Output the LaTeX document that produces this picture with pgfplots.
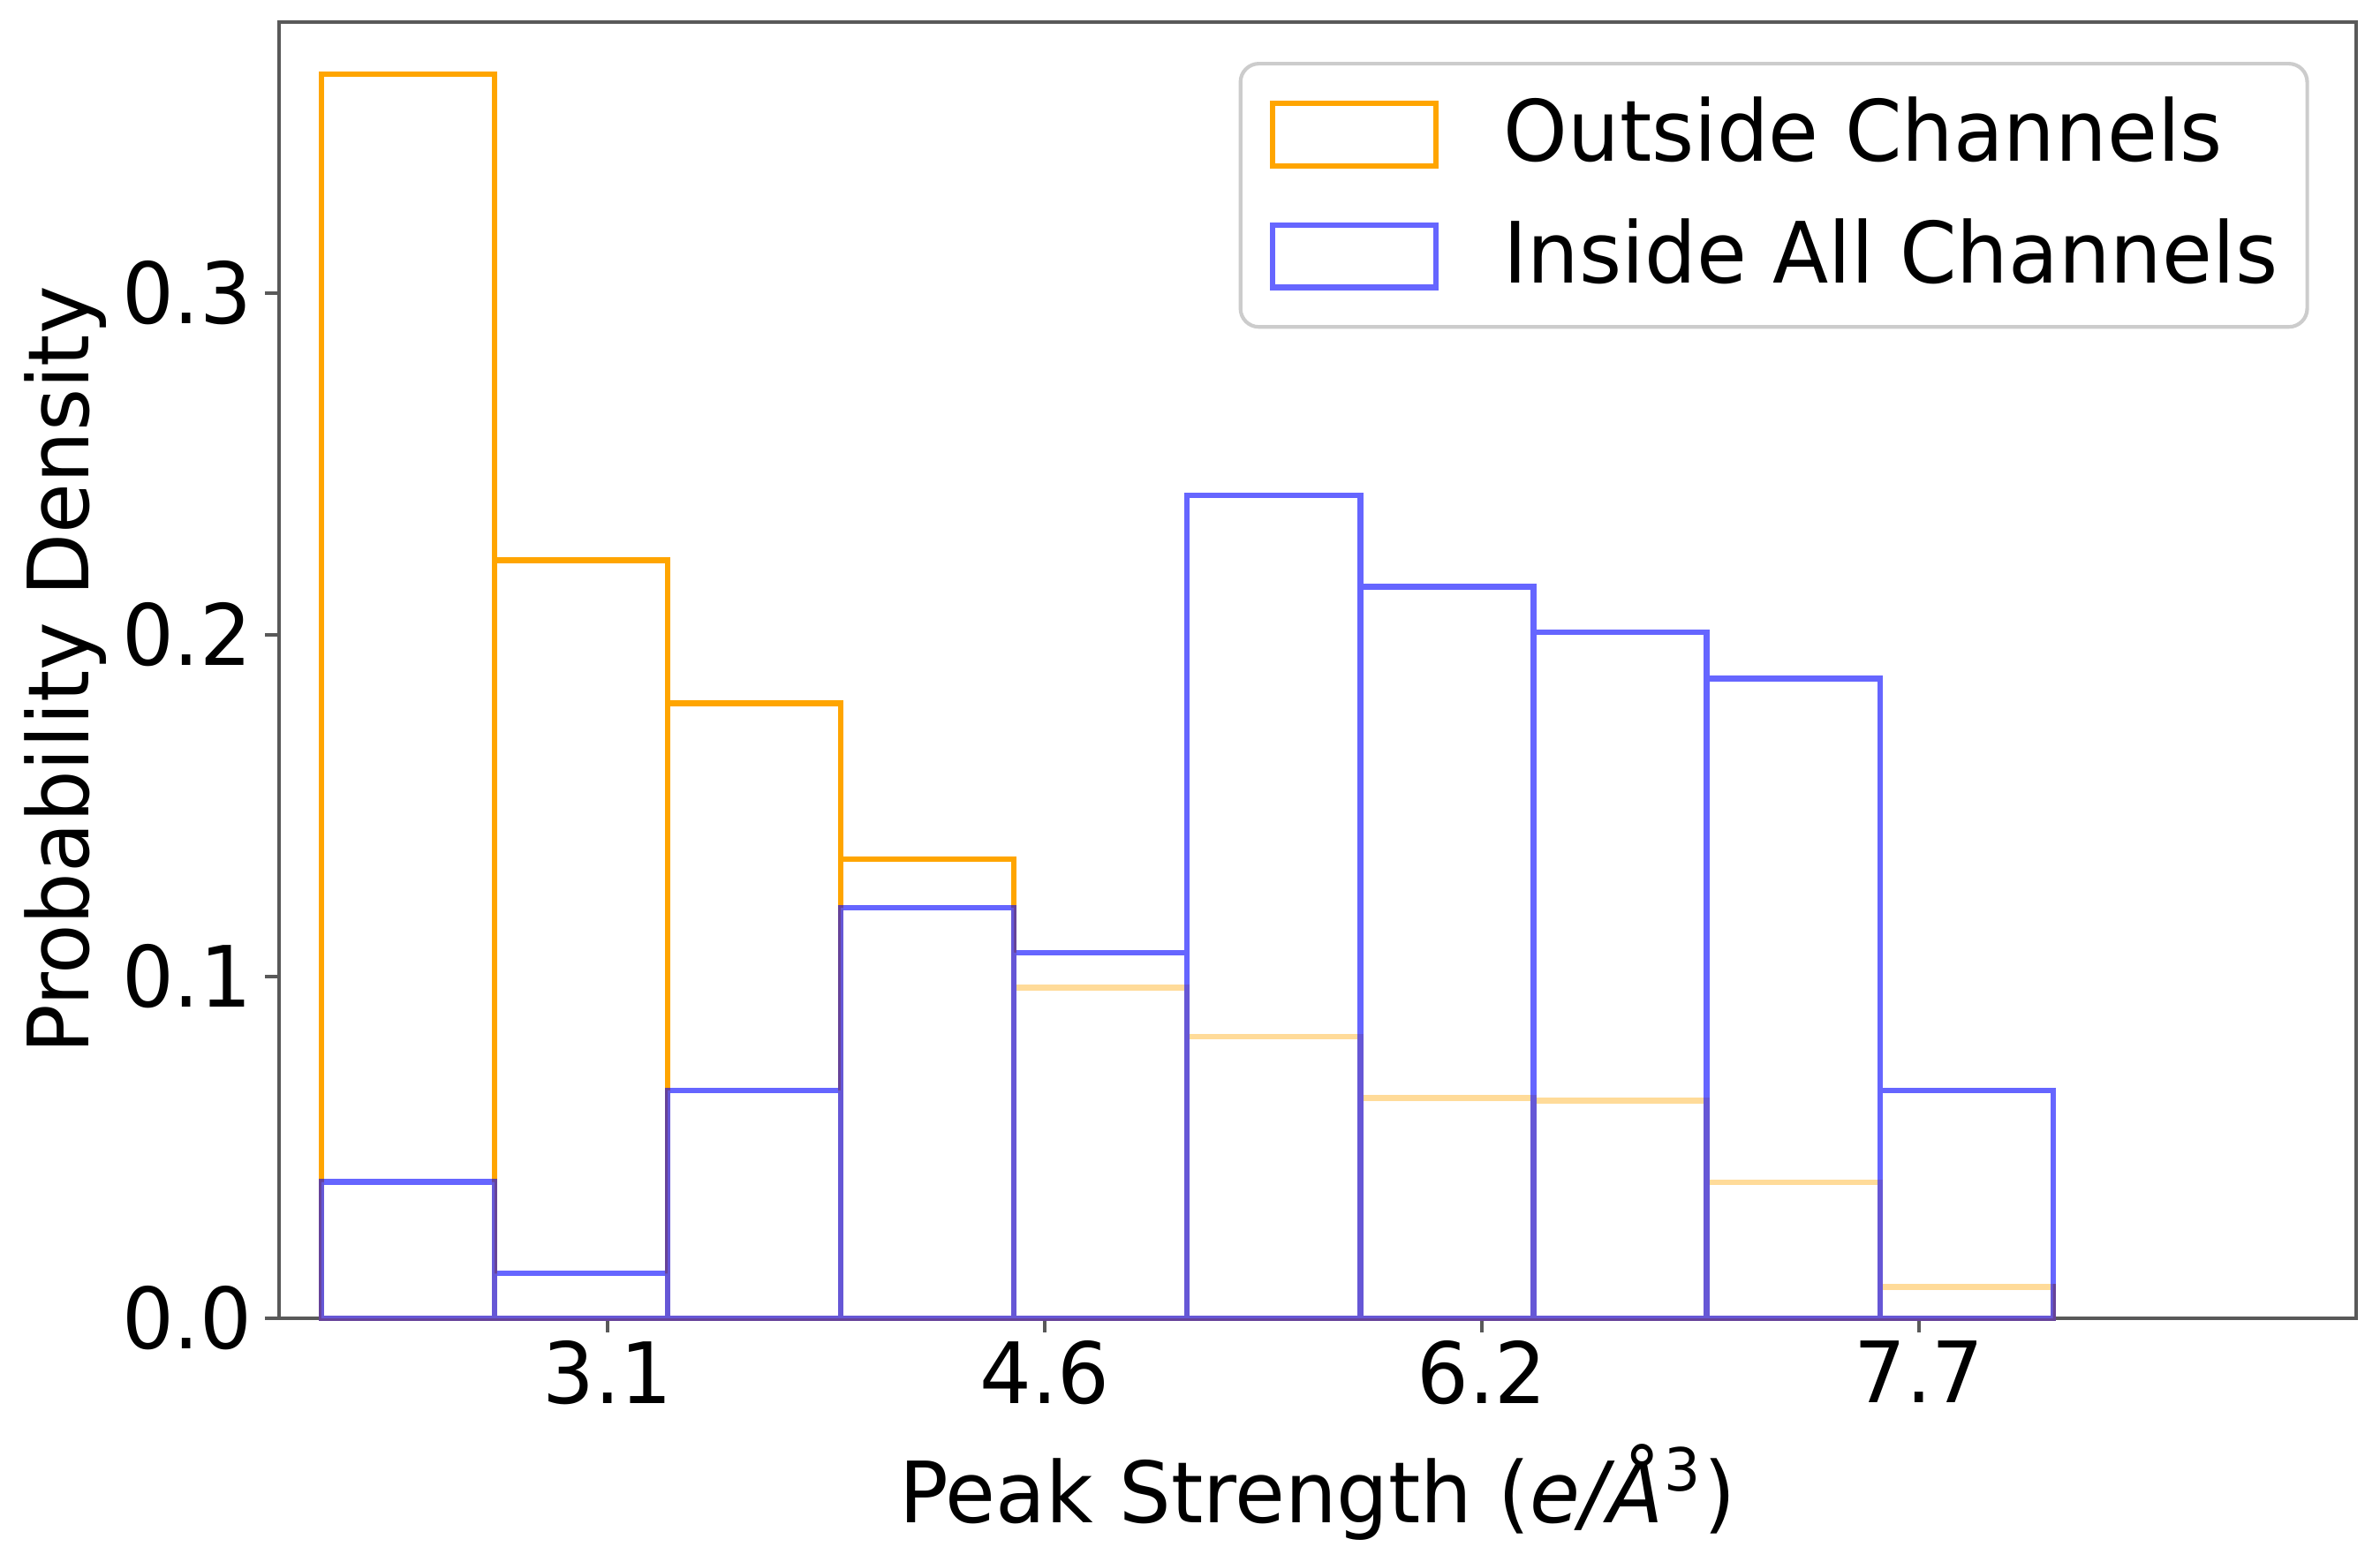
\documentclass[border=0pt]{standalone}
\usepackage{fontspec}
\setmainfont{DejaVu Sans}[FakeStretch=0.965]
\usepackage{pgfplots}
\usepackage{pgfplotstable}
\pgfplotsset{compat=1.18}

\definecolor{historange}{RGB}{255,165,0}
\definecolor{histblue}{RGB}{0,0,255}
\newcommand{\fs}{\fontsize{11.5}{13.8}\selectfont}

\pgfplotsset{
    histlegend/.style={
        legend image code/.code={\draw[##1, sharp corners] (0pt,-4.25pt) rectangle (22.2pt,4.25pt);}
    }
}

% bin left edges and densities (last row closes the final bin)
\pgfplotstableread{
x y
2.072 0.3641
2.682 0.2218
3.292 0.1800
3.902 0.1344
4.512 0.0968
5.122 0.0824
5.732 0.0645
6.342 0.0637
6.952 0.0398
7.562 0.0092
8.172 0.0092
}\outside

\pgfplotstableread{
x y
2.072 0.0399
2.682 0.0131
3.292 0.0667
3.902 0.1201
4.512 0.1070
5.122 0.2408
5.732 0.2141
6.342 0.2008
6.952 0.1872
7.562 0.0667
8.172 0.0667
}\inside

\begin{document}
\begin{tikzpicture}
\begin{axis}[
    scale only axis,
    width=282.24pt, height=176.16pt,
    xmin=1.923, xmax=9.24,
    ymin=0, ymax=0.3793,
    clip=false,
    xtick={3.08,4.62,6.16,7.70},
    xticklabels={3.1,4.6,6.2,7.7},
    ytick={0,0.1,0.2,0.3},
    yticklabels={0.0,0.1,0.2,0.3},
    tick pos=left,
    tick align=outside,
    major tick length=1.9pt,
    axis line style={black!65, line width=0.5pt},
    every tick/.style={black!65, line width=0.5pt},
    tick label style={font=\fs, inner sep=0pt},
    xticklabel style={anchor=north, yshift=-1pt},
    yticklabel style={anchor=east, xshift=-1.6pt},
    xlabel={Peak Strength (\textit{e/Å}\textsuperscript{3})},
    ylabel={Probability Density},
    label style={font=\fs, inner sep=0pt},
    xlabel style={at={([yshift=-27.8pt]axis description cs:0.5,0)}, anchor=base},
    ylabel style={at={([xshift=-23.3pt]axis description cs:0,0.5)}, anchor=south},
    legend cell align=left,
    legend style={
        at={([xshift=-6.4pt,yshift=-5.4pt]axis description cs:1,1)},
        anchor=north east,
        font=\fs,
        draw=black!20, line width=0.5pt, rounded corners=2.5pt,
        fill=white,
        inner xsep=4.0pt, inner ysep=4.5pt,
        row sep=6.3pt, column sep=8.8pt,
        nodes={inner sep=0pt},
    },
]
\addplot[ybar interval, histlegend, draw=historange, fill=none, line width=0.75pt]
    table[x=x, y=y] {\outside};
\addlegendentry{Outside Channels}

\addplot[ybar interval, histlegend, draw=histblue, draw opacity=0.6, fill=white, fill opacity=0.6, line width=0.75pt]
    table[x=x, y=y] {\inside};
\addlegendentry{Inside All Channels}
\end{axis}
\path (current axis.south west) ++(-37.92pt,-33pt);
\path (current axis.north east) ++(3.24pt,3pt);
\end{tikzpicture}
\end{document}
